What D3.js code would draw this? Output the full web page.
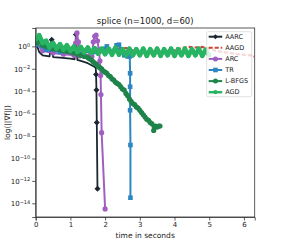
<!DOCTYPE html>
<html>
<head>
    <title>splice gradient norm vs time</title>
    <script src="https://d3js.org/d3.v7.min.js"></script>
    <style>
        body { margin: 0; background: #fff; }
        text { font-family: 'DejaVu Sans', sans-serif; fill: #222; }
    </style>
</head>
<body>
    <svg id="chart" width="283" height="245"></svg>
    <script type="text/javascript">

        // values are [time in seconds, log10 of gradient norm]
        var aarc = [[0.0,0.4],[0.1,-0.5],[0.2,-0.8],[0.4,-0.9],[0.46,0.6],[0.5,-0.95],[0.7,-1.0],[1.0,-1.1],[1.12,-1.15],
            [1.16,1.05],[1.2,-1.2],[1.3,-1.3],[1.5,-1.5],[1.65,-1.75],[1.73,-1.9],[1.74,-2.5],[1.75,-3.9],[1.76,-6.8],[1.78,-12.7]];
        // points of the AARC run that carry a marker
        var aarcMarked = [0, 4, 9, 15, 16, 17, 18];

        var aagd = [[0.0,0.3],[0.2,0.0],[0.4,-0.2],[0.6,-0.3],[0.8,-0.4],[1.0,-0.5],[1.2,-0.55],[1.4,-0.6],[1.6,-0.6],
            [1.8,-0.55],[2.0,-0.5],[2.2,-0.4],[2.4,-0.2],[2.6,-0.15],[2.8,-0.35],[3.0,-0.45],[3.2,-0.5],[3.4,-0.45],[3.6,-0.5],
            [3.8,-0.45],[4.0,-0.35],[4.2,-0.15],[4.4,-0.05],[4.6,-0.1],[4.8,-0.05],[5.0,-0.2],[5.2,-0.4],[5.4,-0.5],[5.6,-0.6],
            [5.8,-0.7],[6.0,-0.75],[6.2,-0.8],[6.3,-0.9]];

        var arc = [[0.0,0.3],[0.2,-0.4],[0.5,-0.6],[0.8,-0.7],[1.1,-0.8],[1.15,0.3],[1.19,1.2],[1.23,0.4],[1.27,-0.85],
            [1.5,-0.9],[1.62,-0.9],[1.66,0.4],[1.7,0.9],[1.74,1.0],[1.78,0.5],[1.82,-0.3],[1.85,-1.3],[1.87,-2.6],[1.88,-4.3],
            [1.9,-7.7],[2.0,-14.5]];

        var tr = [[0.0,0.2],[0.3,-0.3],[0.7,-0.5],[1.2,-0.55],[1.7,-0.5],[2.0,-0.2],[2.05,0.0],[2.1,-0.3],[2.25,-0.4],
            [2.33,0.1],[2.4,0.15],[2.47,-0.3],[2.55,-0.8],[2.65,-0.9],[2.71,-0.9],[2.72,-2.4],[2.72,-3.6],[2.72,-5.7],
            [2.73,-8.8],[2.73,-13.5]];

        var lbfgs = [[0.0,0.7],[0.05,0.3],[0.1,0.5],[0.2,0.1],[0.3,0.0],[0.4,-0.1],[0.5,-0.2],[0.6,-0.25],[0.7,-0.3],
            [0.8,-0.4],[0.9,-0.45],[1.0,-0.5],[1.1,-0.6],[1.2,-0.7],[1.3,-0.8],[1.4,-0.9],[1.5,-1.0],[1.55,-1.1],[1.6,-1.2],
            [1.65,-1.35],[1.7,-1.5],[1.75,-1.6],[1.8,-1.8],[1.85,-1.9],[1.9,-2.0],[1.95,-2.2],[2.0,-2.3],[2.05,-2.4],
            [2.1,-2.6],[2.15,-2.7],[2.2,-2.9],[2.25,-3.0],[2.3,-3.2],[2.35,-3.3],[2.4,-3.4],[2.45,-3.6],[2.5,-3.8],
            [2.55,-3.9],[2.6,-4.2],[2.65,-4.4],[2.7,-4.7],[2.75,-4.9],[2.8,-5.1],[2.85,-5.2],[2.9,-5.4],[2.95,-5.5],
            [3.0,-5.7],[3.05,-5.9],[3.1,-6.1],[3.15,-6.3],[3.2,-6.5],[3.25,-6.6],[3.3,-6.8],[3.35,-6.9],[3.4,-7.5],
            [3.45,-7.1],[3.5,-7.2],[3.55,-7.1],[3.58,-7.1]];

        var agd = [[0.0,0.6],[0.1,1.0],[0.2,0.3],[0.3,0.5],[0.4,-0.1],[0.5,0.3],[0.6,-0.2],[0.7,0.2],[0.8,-0.3],[0.9,0.1],
            [1.0,-0.4],[1.1,0.0],[1.2,-0.5],[1.3,-0.05],[1.4,-0.55],[1.5,-0.1],[1.6,-0.6],[1.7,-0.15],[1.8,-0.65],[1.9,-0.2],
            [2.0,-0.7],[2.1,-0.2],[2.2,-0.75],[2.3,-0.1],[2.4,-0.75],[2.5,-0.25],[2.6,-0.8],[2.7,-0.2],[2.8,-0.8],[2.9,-0.25],
            [3.0,-0.8],[3.1,-0.2],[3.2,-0.85],[3.3,-0.25],[3.4,-0.8],[3.5,-0.2],[3.6,-0.85],[3.7,-0.25],[3.8,-0.8],[3.9,-0.2],
            [4.0,-0.85],[4.1,-0.25],[4.2,-0.8],[4.3,-0.2],[4.4,-0.85],[4.5,-0.25],[4.6,-0.8],[4.7,-0.2],[4.8,-0.85],[4.9,-0.3],
            [5.0,-0.8]];

        var xTicks = [0, 1, 2, 3, 4, 5, 6];
        var yTicks = [0, -2, -4, -6, -8, -10, -12, -14];

        var series = [
            { name: "AARC",   data: aarc,  marked: aarcMarked, color: "#1b2631", width: 1.8, marker: "diamond", size: 3,   dash: null },
            { name: "AAGD",   data: aagd,  marked: null, color: "#cb4335", width: 2.2, marker: null,      size: 0,   dash: "4,2" },
            { name: "ARC",    data: arc,   marked: null, color: "#a05fc0", width: 2,   marker: "circle",  size: 2.6, dash: null },
            { name: "TR",     data: tr,    marked: null, color: "#2e86c1", width: 2,   marker: "square",  size: 2.3, dash: null },
            { name: "L-BFGS", data: lbfgs, marked: null, color: "#1e8449", width: 2.4, marker: "circle",  size: 2.6, dash: null },
            { name: "AGD",    data: agd,   marked: null, color: "#28b463", width: 4.6, marker: "circle",  size: 2.1, dash: null }
        ];

        var plotLeft = 35.7, plotRight = 254.7, plotTop = 28, plotBottom = 217;

        var svg = d3.select("#chart");

        var x = d3.scaleLinear().domain([0, 6.31]).range([plotLeft, plotRight]);
        var y = d3.scaleLinear().domain([-15.22, 1.64]).range([plotBottom, plotTop]);

        svg.append("clipPath").attr("id", "plotclip")
            .append("rect").attr("x", plotLeft).attr("y", plotTop)
            .attr("width", plotRight - plotLeft).attr("height", plotBottom - plotTop);

        // x axis
        var xAxis = svg.append("g")
            .attr("transform", "translate(0," + plotBottom + ")")
            .call(d3.axisBottom(x).tickValues(xTicks).tickSize(3.5).tickPadding(2).tickFormat(d3.format("d")));
        xAxis.selectAll("text").style("font-size", "7px");

        // y axis with 10^k labels
        var yAxis = svg.append("g")
            .attr("transform", "translate(" + plotLeft + ",0)")
            .call(d3.axisLeft(y).tickValues(yTicks).tickSize(3.5).tickPadding(2).tickFormat(""));
        yAxis.selectAll(".tick").each(function(d) {
            var t = d3.select(this).append("text")
                .attr("x", -5.5).attr("dy", "0.32em")
                .attr("text-anchor", "end")
                .style("font-size", "7px")
                .attr("fill", "#222");
            t.append("tspan").text("10");
            t.append("tspan").attr("dy", "-0.45em").style("font-size", "5px").text(d === 0 ? "0" : "\u2212" + (-d));
        });

        svg.selectAll(".domain").attr("stroke", "#333").attr("stroke-width", 0.8);
        svg.selectAll(".tick line").attr("stroke", "#333").attr("stroke-width", 0.8);

        var line = d3.line()
            .x(function(d) { return x(d[0]); })
            .y(function(d) { return y(d[1]); });

        var plot = svg.append("g").attr("clip-path", "url(#plotclip)");

        function drawMarker(g, s, px, py) {
            if (s.marker === "circle") {
                g.append("circle").attr("cx", px).attr("cy", py).attr("r", s.size).attr("fill", s.color);
            } else if (s.marker === "square") {
                g.append("rect").attr("x", px - s.size).attr("y", py - s.size)
                    .attr("width", 2 * s.size).attr("height", 2 * s.size).attr("fill", s.color);
            } else if (s.marker === "diamond") {
                var k = s.size;
                g.append("path").attr("d", "M" + px + "," + (py - k) + "L" + (px + k) + "," + py +
                    "L" + px + "," + (py + k) + "L" + (px - k) + "," + py + "Z").attr("fill", s.color);
            }
        }

        series.forEach(function(s) {
            var g = plot.append("g");
            g.append("path")
                .datum(s.data)
                .attr("d", line)
                .attr("fill", "none")
                .attr("stroke", s.color)
                .attr("stroke-width", s.width)
                .attr("stroke-dasharray", s.dash)
                .attr("stroke-linejoin", "round");
            if (s.marker) {
                s.data.forEach(function(d, i) {
                    if (s.marked && s.marked.indexOf(i) < 0) return;
                    drawMarker(g, s, x(d[0]), y(d[1]));
                });
            }
        });

        // frame
        svg.append("rect").attr("x", plotLeft).attr("y", plotTop)
            .attr("width", plotRight - plotLeft).attr("height", plotBottom - plotTop)
            .attr("fill", "none").attr("stroke", "#333").attr("stroke-width", 0.8);

        // legend
        var lg = svg.append("g").attr("transform", "translate(206.7,31.7)");
        lg.append("rect").attr("width", 45).attr("height", 65).attr("rx", 1.5)
            .attr("fill", "#fff").attr("fill-opacity", 0.8)
            .attr("stroke", "#ccc").attr("stroke-width", 0.6);
        series.forEach(function(s, i) {
            var row = lg.append("g").attr("transform", "translate(0," + (5 + i * 11.1) + ")");
            row.append("line").attr("x1", 2).attr("x2", 15.5).attr("y1", 0).attr("y2", 0)
                .attr("stroke", s.color).attr("stroke-width", s.name === "AGD" ? 2.5 : 2)
                .attr("stroke-dasharray", s.dash);
            if (s.marker) drawMarker(row, { marker: s.marker, color: s.color, size: Math.min(s.size, 2.5) }, 8.75, 0);
            row.append("text").attr("x", 18.5).attr("y", 0).attr("dy", "0.35em")
                .style("font-size", "6.5px").text(s.name);
        });

        // titles
        svg.append("text").attr("x", (plotLeft + plotRight) / 2).attr("y", 23.5)
            .attr("text-anchor", "middle").style("font-size", "8.5px")
            .text("splice (n=1000, d=60)");

        svg.append("text").attr("x", (plotLeft + plotRight) / 2).attr("y", 237.5)
            .attr("text-anchor", "middle").style("font-size", "7.5px")
            .text("time in seconds");

        svg.append("text")
            .attr("transform", "translate(9.5," + ((plotTop + plotBottom) / 2) + ") rotate(-90)")
            .attr("text-anchor", "middle").style("font-size", "7.5px")
            .text("log(||\u2207f||)");

    </script>
</body>
</html>
